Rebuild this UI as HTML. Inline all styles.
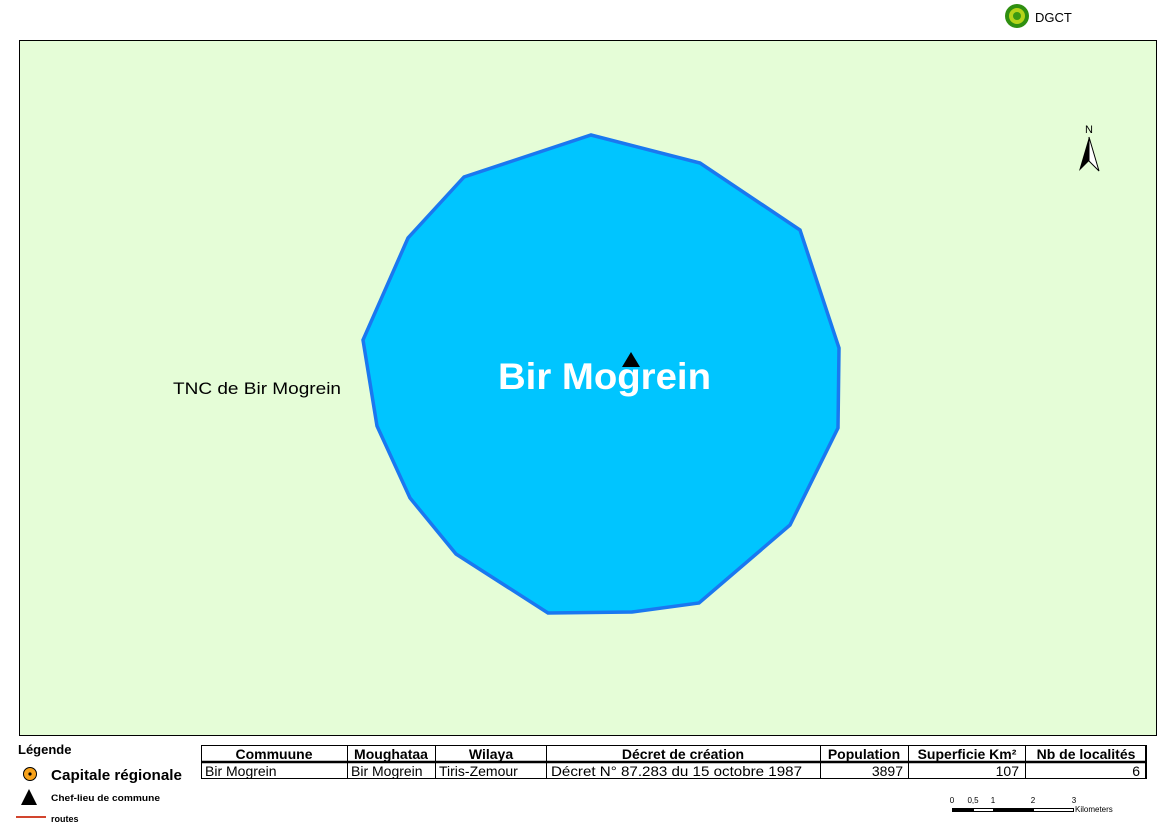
<!DOCTYPE html>
<html><head><meta charset="utf-8"><style>
body{margin:0;width:1170px;height:827px;background:#fff;overflow:hidden;font-family:"Liberation Sans",Arial,sans-serif}
</style></head><body>
<svg width="1170" height="827" xmlns="http://www.w3.org/2000/svg" font-family="Liberation Sans, Arial, sans-serif">
<rect x="19.5" y="40.5" width="1137" height="695" fill="#e5fdd7" stroke="#000" stroke-width="1"/>
<polygon points="591,135 700,163 800,230 839,348 838,428 790,525 699,603 632,612 548,613 456,554 410,498 377,426 363,340 408,238 464,177" fill="#00c5ff" stroke="#1a78f0" stroke-width="3.5"/>
<polygon points="631,352 622,367 640,367" fill="#000"/>
<text x="498" y="389" font-size="37" font-weight="bold" fill="#fff" textLength="213" lengthAdjust="spacingAndGlyphs">Bir Mogrein</text>
<text x="173" y="394" font-size="17" fill="#000" textLength="168" lengthAdjust="spacingAndGlyphs">TNC de Bir Mogrein</text>
<!-- north arrow -->
<text x="1089" y="133" font-size="11" text-anchor="middle">N</text>
<polygon points="1089,137 1079,171 1089,161" fill="#000"/>
<polygon points="1089,137 1099,171 1089,161" fill="#fff" stroke="#000" stroke-width="1"/>
<!-- DGCT -->
<circle cx="1017" cy="16" r="12" fill="#2f8f10"/>
<circle cx="1017" cy="16" r="8" fill="#b5d41a"/>
<circle cx="1017" cy="16" r="4" fill="#3a9a12"/>
<text x="1035" y="22" font-size="13">DGCT</text>
<!-- legend -->
<text x="18" y="754" font-size="13" font-weight="bold">Légende</text>
<circle cx="30" cy="774" r="6.5" fill="#f7a21b" stroke="#000" stroke-width="1"/>
<circle cx="30" cy="774" r="1.6" fill="#000"/>
<text x="51" y="780" font-size="15" font-weight="bold" textLength="131" lengthAdjust="spacingAndGlyphs">Capitale régionale</text>
<polygon points="29,789 21,805 37,805" fill="#000"/>
<text x="51" y="801" font-size="9" font-weight="bold" textLength="109" lengthAdjust="spacingAndGlyphs">Chef-lieu de commune</text>
<line x1="16" y1="817" x2="46" y2="817" stroke="#d2452e" stroke-width="2"/>
<text x="51" y="822" font-size="9" font-weight="bold">routes</text>
<!-- table -->
<g stroke="#000" fill="none">
<rect x="201.5" y="745.5" width="945" height="33" stroke-width="1"/>
<line x1="201" y1="762" x2="1147" y2="762" stroke-width="2.5"/>
<line x1="347.5" y1="745" x2="347.5" y2="779"/>
<line x1="435.5" y1="745" x2="435.5" y2="779"/>
<line x1="546.5" y1="745" x2="546.5" y2="779"/>
<line x1="820.5" y1="745" x2="820.5" y2="779"/>
<line x1="908.5" y1="745" x2="908.5" y2="779"/>
<line x1="1025.5" y1="745" x2="1025.5" y2="779"/>
<line x1="1146" y1="745" x2="1146" y2="779" stroke-width="2"/>
</g>
<g font-size="14" font-weight="bold" text-anchor="middle">
<text x="274" y="759">Commuune</text>
<text x="391" y="759">Moughataa</text>
<text x="491" y="759">Wilaya</text>
<text x="683" y="759">Décret de création</text>
<text x="864" y="759">Population</text>
<text x="967" y="759">Superficie Km²</text>
<text x="1086" y="759">Nb de localités</text>
</g>
<g font-size="14">
<text x="205" y="776">Bir Mogrein</text>
<text x="351" y="776">Bir Mogrein</text>
<text x="439" y="776">Tiris-Zemour</text>
<text x="551" y="776" textLength="251" lengthAdjust="spacingAndGlyphs">Décret N° 87.283 du 15 octobre 1987</text>
<text x="903" y="776" text-anchor="end">3897</text>
<text x="1019" y="776" text-anchor="end">107</text>
<text x="1140" y="776" text-anchor="end">6</text>
</g>
<!-- scale -->
<g font-size="8">
<text x="952" y="803" text-anchor="middle">0</text>
<text x="973" y="803" text-anchor="middle">0,5</text>
<text x="993" y="803" text-anchor="middle">1</text>
<text x="1033" y="803" text-anchor="middle">2</text>
<text x="1074" y="803" text-anchor="middle">3</text>
<text x="1075" y="812">Kilometers</text>
</g>
<rect x="952" y="808" width="21" height="4" fill="#000"/>
<rect x="973.5" y="808.5" width="20" height="3" fill="#fff" stroke="#000"/>
<rect x="993" y="808" width="40" height="4" fill="#000"/>
<rect x="1033.5" y="808.5" width="40" height="3" fill="#fff" stroke="#000"/>
</svg>
</body></html>
